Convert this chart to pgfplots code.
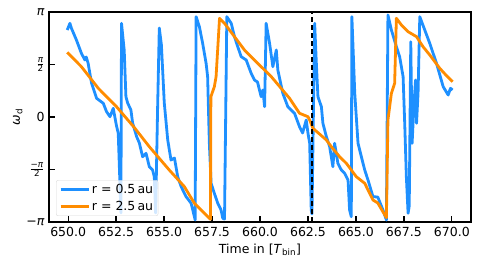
\documentclass[border=0pt]{standalone}
\usepackage{amsmath}
\usepackage{fontspec}
\setmainfont{DejaVu Sans}
\usepackage{pgfplots}
\pgfplotsset{compat=1.18}
\definecolor{cblue}{RGB}{30,144,255}
\definecolor{corange}{RGB}{255,140,0}
\begin{document}
\begin{tikzpicture}
\path[use as bounding box] (-49bp,-45bp) rectangle (430bp,222bp);
\begin{axis}[
  at={(0,0)}, anchor=south west,
  width=422bp, height=210bp, scale only axis,
  xmin=649, xmax=671, ymin=-3.14159, ymax=3.14159,
  axis line style={line width=1.3bp, black},
  xtick={650,652.5,655,657.5,660,662.5,665,667.5,670},
  ytick={-3.14159,-1.5708,0,1.5708,3.14159},
  yticklabels={{−\textit{π}},{$\frac{\text{−\textit{π}}}{\text{2}}$},{0},{$\frac{\text{\textit{π}}}{\text{2}}$},{\textit{π}}},
  xticklabel style={yshift=-2bp, /pgf/number format/.cd, fixed, fixed zerofill, precision=1, assume math mode=true},
  xtick pos=lower, ytick pos=left,
  tick align=inside,
  major tick length=6bp,
  every tick/.style={line width=1.3bp, black},
  tick label style={font=\fontsize{12.5bp}{15bp}\selectfont},
  yticklabel style={xshift=-1bp},
  xlabel={Time in [$\text{\textit{T}}_{\text{bin}}$]},
  ylabel={$\text{\textit{ω}}_{\text{d}}$},
  label style={font=\fontsize{12.5bp}{15bp}\selectfont},
  xlabel style={yshift=0bp},
  ylabel style={yshift=-3bp},
  legend style={at={(0.0166,0.0286)}, anchor=south west, draw=black!15, fill=white, fill opacity=0.8, text opacity=1, rounded corners=2pt, font=\fontsize{12.5bp}{15bp}\selectfont, inner xsep=3bp, inner ysep=2bp, row sep=2bp},
  legend cell align=left,
  legend image code/.code={\draw[#1, line width=2.8bp] (0bp,0bp) -- (28bp,0bp);},
]
\addplot[cblue, line width=2.8bp, line join=round] coordinates {
(649.95,2.603) (650.09,2.803) (650.17,2.654) (650.43,2.304) (650.69,1.906) (650.87,1.706) (650.94,1.795) (651.04,1.607)
(651.22,1.008) (651.48,0.560) (651.83,0.410) (652.00,0.159) (652.18,0.009) (652.35,0.260) (652.51,-0.239) (652.61,-0.488)
(652.75,-2.872) (652.78,2.803) (652.92,2.005) (653.01,0.607) (653.10,0.419) (653.27,0.210) (653.36,-0.180) (653.57,-0.589)
(653.71,-0.778) (653.88,-1.188) (654.06,-1.086) (654.23,-1.487) (654.40,-1.586) (654.49,-1.786) (654.56,-2.872) (654.66,0.210)
(654.75,2.663) (654.86,2.154) (655.01,0.419) (655.19,-0.688) (655.36,-1.287) (655.54,-1.227) (655.71,-1.786) (655.89,-2.085)
(656.15,-2.385) (656.41,-2.582) (656.58,-2.983) (656.62,-3.082) (656.67,3.001) (656.84,2.702) (657.01,2.205) (657.19,1.607)
(657.27,1.206) (657.36,-0.787) (657.45,-1.984) (657.62,-2.283) (657.80,-2.582) (657.97,-2.783) (658.06,-3.031) (658.15,-3.052)
(658.27,3.001) (658.50,2.803) (658.67,2.403) (658.84,2.103) (659.02,1.804) (659.28,1.706) (659.54,1.307) (659.71,1.107)
(659.87,1.047) (660.06,0.607) (660.15,0.808) (660.24,0.308) (660.32,2.803) (660.50,2.205) (660.67,1.505) (660.85,2.005)
(660.93,1.406) (661.19,0.709) (661.45,0.308) (661.80,0.111) (662.06,-0.290) (662.22,-0.479) (662.41,-0.090) (662.50,-0.479)
(662.59,-0.787) (662.67,-2.783) (662.71,-2.902) (662.85,2.803) (662.93,1.706) (663.02,0.607) (663.20,0.308) (663.28,-0.189)
(663.46,-0.589) (663.63,-0.889) (663.80,-1.487) (663.89,-0.787) (664.06,-1.385) (664.24,-1.586) (664.41,-1.685) (664.59,-1.885)
(664.67,-2.783) (664.76,-2.983) (664.79,3.001) (664.94,0.709) (665.11,-0.787) (665.37,-1.385) (665.46,-1.586) (665.63,-1.885)
(665.89,-2.385) (666.14,-2.394) (666.41,-2.783) (666.59,-3.082) (666.67,3.052) (666.85,2.603) (667.11,2.103) (667.28,1.804)
(667.46,1.206) (667.55,-0.290) (667.63,-1.786) (667.72,-2.881) (667.78,-2.663) (667.86,2.253) (667.93,-0.787) (668.03,0.410)
(668.11,1.107) (668.16,-0.189) (668.24,0.709) (668.33,3.001) (668.59,2.603) (668.85,2.205) (669.20,1.607) (669.55,0.907)
(669.81,0.658) (669.93,0.859) (670.04,0.808)
};
\addlegendentry{r = 0.5\,au}
\addplot[corange, line width=2.8bp, line join=round] coordinates {
(649.95,1.936) (650.69,1.505) (651.57,0.859) (652.52,0.308) (653.48,-0.338) (654.23,-0.889) (655.27,-1.586) (656.06,-2.085)
(656.58,-2.582) (657.42,-3.061) (657.43,-0.688) (657.44,0.607) (657.62,0.907) (657.71,1.206) (657.89,2.953) (658.15,2.803)
(658.67,2.403) (659.19,2.005) (659.97,1.556) (660.59,1.206) (661.54,0.560) (662.06,0.111) (662.50,0.009) (662.59,-0.090)
(662.76,-0.338) (663.46,-0.688) (663.72,-0.889) (664.15,-1.188) (664.50,-1.385) (665.02,-1.786) (665.46,-1.984) (665.89,-2.484)
(666.14,-2.573) (666.59,-3.013) (666.67,-0.090) (666.85,0.709) (667.02,1.008) (667.11,2.953) (667.37,2.753) (667.72,2.552)
(668.16,2.403) (668.50,2.103) (668.85,1.855) (669.37,1.457) (669.69,1.257) (670.04,1.056)
};
\addlegendentry{r = 2.5\,au}
\addplot[black, line width=1.8bp, dash pattern=on 5bp off 3bp, forget plot] coordinates {(662.73,-3.14159) (662.73,3.14159)};
\end{axis}
\end{tikzpicture}
\end{document}
